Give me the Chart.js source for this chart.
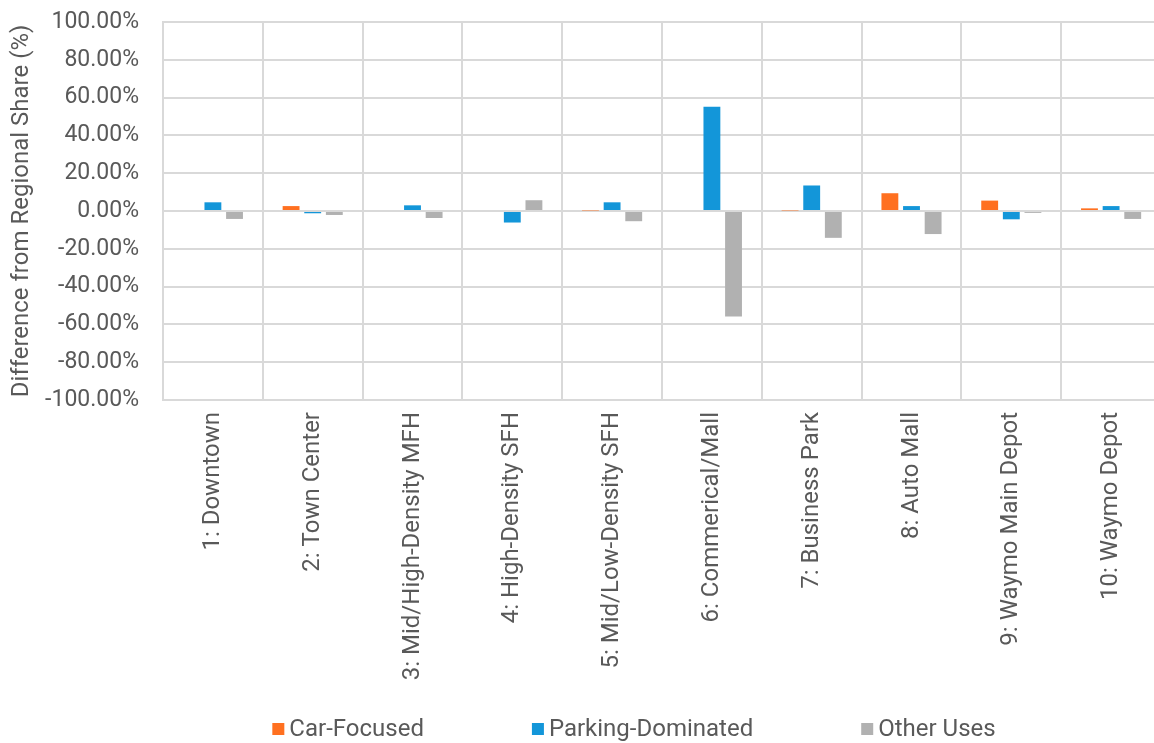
<!DOCTYPE html>
<html>
<head>
<meta charset="utf-8">
<script src="https://cdn.jsdelivr.net/npm/chart.js@4/dist/chart.umd.min.js"></script>
<style>
  html, body { margin: 0; padding: 0; background: #ffffff; overflow: hidden; }
  #wrap { position: absolute; left: 0; top: 0; width: 1170px; height: 743px; }
</style>
</head>
<body>
<div id="wrap"><canvas id="chart" width="1170" height="743"></canvas></div>
<script>
// Land-use categories along the x axis
const categories = [
  '1: Downtown',
  '2: Town Center',
  '3: Mid/High-Density MFH',
  '4: High-Density SFH',
  '5: Mid/Low-Density SFH',
  '6: Commerical/Mall',
  '7: Business Park',
  '8: Auto Mall',
  '9: Waymo Main Depot',
  '10: Waymo Depot'
];

// Difference from regional share, in percent
const carFocused       = [0.0, 2.6, 0.0, 0.0, 0.3, 0.0, 0.3, 9.4, 5.5, 1.4];
const parkingDominated = [4.6, -1.2, 3.0, -6.1, 4.6, 55.2, 13.5, 2.6, -4.4, 2.6];
const otherUses        = [-4.2, -2.1, -3.7, 5.7, -5.4, -55.8, -14.2, -12.2, -1.0, -4.2];

const seriesNames = ['Car-Focused', 'Parking-Dominated', 'Other Uses'];
const seriesColors = ['#FF7020', '#1396D9', '#B1B1B1'];

// y axis runs from -100% to 100% in 20% steps
const yMin = -100, yMax = 100, yStep = 20;

const FONT = 'Roboto, "Noto Sans", sans-serif';
const FONT_SIZE = 24;
const TICK_SIZE = 23;
const TEXT = '#595959';
const GRID = '#D9D9D9';

// Legend drawn beneath the category labels
const bottomLegend = {
  id: 'bottomLegend',
  afterDraw(chart) {
    const ctx = chart.ctx;
    const box = 12, boxGap = 5, itemGap = 108;
    const y = 729;
    ctx.save();
    ctx.font = FONT_SIZE + 'px ' + FONT;
    ctx.textBaseline = 'middle';
    ctx.textAlign = 'left';
    const items = chart.data.datasets.map(ds => ({
      text: ds.label, color: ds.backgroundColor, w: ctx.measureText(ds.label).width
    }));
    const total = items.reduce((s, it) => s + box + boxGap + it.w, 0) + itemGap * (items.length - 1);
    let x = 634 - total / 2;
    items.forEach(it => {
      ctx.fillStyle = it.color;
      ctx.fillRect(x, y - box / 2, box, box);
      ctx.fillStyle = TEXT;
      ctx.fillText(it.text, x + box + boxGap, y + 1);
      x += box + boxGap + it.w + itemGap;
    });
    ctx.restore();
  }
};

new Chart(document.getElementById('chart'), {
  type: 'bar',
  data: {
    labels: categories,
    datasets: [
      { label: seriesNames[0], data: carFocused, backgroundColor: seriesColors[0] },
      { label: seriesNames[1], data: parkingDominated, backgroundColor: seriesColors[1] },
      { label: seriesNames[2], data: otherUses, backgroundColor: seriesColors[2] }
    ]
  },
  options: {
    responsive: false,
    animation: false,
    devicePixelRatio: 1,
    categoryPercentage: 0.65,
    barPercentage: 0.78,
    layout: { padding: { top: 22, right: 9, bottom: 53, left: 8 } },
    plugins: {
      legend: { display: false },
      tooltip: { enabled: false }
    },
    scales: {
      x: {
        grid: { color: GRID, lineWidth: 2, drawTicks: false, offset: true },
        border: { color: GRID, width: 2 },
        ticks: {
          color: TEXT,
          font: { family: FONT, size: FONT_SIZE },
          minRotation: 90,
          maxRotation: 90,
          autoSkip: false,
          padding: 12
        },
        afterFit(scale) { scale.height = 290; }
      },
      y: {
        min: yMin,
        max: yMax,
        grid: { color: GRID, lineWidth: 2, drawTicks: false },
        border: { color: GRID, width: 2 },
        ticks: {
          stepSize: yStep,
          color: TEXT,
          font: { family: FONT, size: TICK_SIZE },
          padding: 24,
          callback: v => v.toFixed(2) + '%'
        },
        title: {
          display: true,
          text: 'Difference from Regional Share (%)',
          color: TEXT,
          font: { family: FONT, size: FONT_SIZE },
          padding: { top: 0, bottom: 0 }
        },
        afterFit(scale) {
          scale.width = 155;
          scale.paddingTop = 0;
          scale.paddingBottom = 0;
        }
      }
    }
  },
  plugins: [bottomLegend]
});
</script>
</body>
</html>
